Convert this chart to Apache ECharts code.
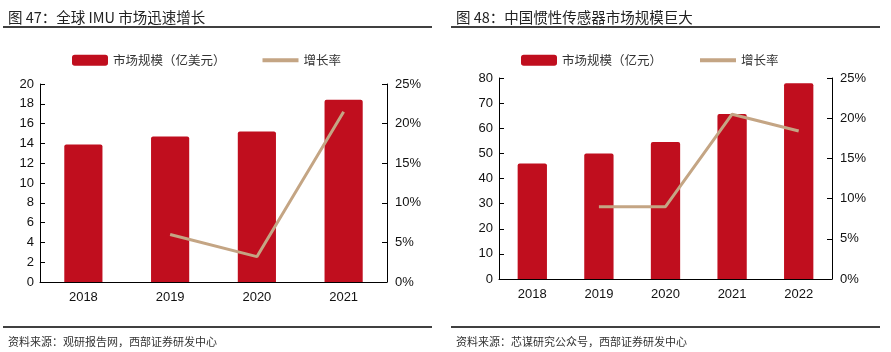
<!DOCTYPE html>
<html>
<head>
<meta charset="utf-8">
<script src="https://cdn.jsdelivr.net/npm/echarts@6/dist/echarts.min.js"></script>
<style>
  html, body { margin: 0; padding: 0; background: #fff; }
  #main { width: 891px; height: 352px; }
</style>
</head>
<body>
<div id="main"></div>
<script>
// 图47 全球IMU市场
var years1 = ['2018', '2019', '2020', '2021'];
var scale1 = [13.9, 14.7, 15.2, 18.4];
var growth1 = [null, 6.0, 3.2, 21.5];
// 图48 中国惯性传感器市场
var years2 = ['2018', '2019', '2020', '2021', '2022'];
var scale2 = [46.0, 50.0, 54.5, 65.7, 77.9];
var growth2 = [null, 9.0, 9.0, 20.5, 18.4];

var barColor = '#C00E1E';
var lineColor = '#C4A584';
var cjk = '"Noto Sans CJK SC", sans-serif';
var num = '"Liberation Sans", Arial, sans-serif';
var lineIcon = 'path://M0,0 L36,0 L36,4 L0,4 Z';

var chart = echarts.init(document.getElementById('main'));

function catAxis(idx, data) {
  return {
    type: 'category', gridIndex: idx, data: data,
    axisLine: { lineStyle: { color: '#000', width: 1 } },
    axisTick: { inside: true, length: 5, lineStyle: { color: '#000' } },
    axisLabel: { margin: 9, color: '#111', fontSize: 13, fontFamily: num }
  };
}
function valAxis(idx, max, step, pos, fmt) {
  return {
    type: 'value', gridIndex: idx, position: pos, min: 0, max: max, interval: step,
    splitLine: { show: false },
    axisLine: { show: true, lineStyle: { color: '#000', width: 1 } },
    axisTick: { show: true, inside: true, length: 5, lineStyle: { color: '#000' } },
    axisLabel: { margin: pos == 'left' ? 6 : 8, color: '#111', fontSize: 13, fontFamily: num, formatter: fmt }
  };
}
function barSeries(name, xi, yi, data) {
  return {
    name: name, type: 'bar', xAxisIndex: xi, yAxisIndex: yi, data: data,
    barWidth: '44%', itemStyle: { color: barColor, borderRadius: [2, 2, 0, 0] }
  };
}
function lineSeries(xi, yi, data) {
  return {
    name: '增长率', type: 'line', xAxisIndex: xi, yAxisIndex: yi, data: data,
    symbol: 'none', lineStyle: { color: lineColor, width: 3 }, itemStyle: { color: lineColor }
  };
}

var titleStyle = { fontFamily: cjk, fontSize: 14.5, fontWeight: 'normal', color: '#222' };
var srcStyle = { fontFamily: cjk, fontSize: 11, fontWeight: 'normal', color: '#333' };
var legendText = { fontFamily: cjk, fontSize: 12.5, color: '#333' };

var option = {
  animation: false,
  title: [
    { text: '图 47：全球 IMU 市场迅速增长', left: 3, top: 5, textStyle: titleStyle },
    { text: '图 48：中国惯性传感器市场规模巨大', left: 451, top: 5, textStyle: titleStyle },
    { text: '资料来源：观研报告网，西部证券研发中心', left: 3, top: 331, textStyle: srcStyle },
    { text: '资料来源：芯谋研究公众号，西部证券研发中心', left: 451, top: 331, textStyle: srcStyle }
  ],
  graphic: [
    { type: 'line', shape: { x1: 3, y1: 27, x2: 432, y2: 27 }, style: { stroke: '#000', lineWidth: 1.5 } },
    { type: 'line', shape: { x1: 451, y1: 27, x2: 880, y2: 27 }, style: { stroke: '#000', lineWidth: 1.5 } },
    { type: 'line', shape: { x1: 3, y1: 327, x2: 432, y2: 327 }, style: { stroke: '#000', lineWidth: 1.5 } },
    { type: 'line', shape: { x1: 451, y1: 327, x2: 880, y2: 327 }, style: { stroke: '#000', lineWidth: 1.5 } }
  ],
  legend: [
    {
      left: 72, top: 54, padding: 0, itemWidth: 36, itemHeight: 11, itemGap: 37,
      data: [{ name: '市场规模（亿美元）', icon: 'roundRect' }, { name: '增长率', icon: lineIcon }],
      textStyle: legendText
    },
    {
      left: 521, top: 54, padding: 0, itemWidth: 36, itemHeight: 11, itemGap: 38,
      data: [{ name: '市场规模（亿元）', icon: 'roundRect' }, { name: '增长率', icon: lineIcon }],
      textStyle: legendText
    }
  ],
  grid: [
    { left: 40, right: 504, top: 84, bottom: 70 },
    { left: 499, right: 59, top: 78, bottom: 73 }
  ],
  xAxis: [catAxis(0, years1), catAxis(1, years2)],
  yAxis: [
    valAxis(0, 20, 2, 'left', '{value}'),
    valAxis(0, 25, 5, 'right', '{value}%'),
    valAxis(1, 80, 10, 'left', '{value}'),
    valAxis(1, 25, 5, 'right', '{value}%')
  ],
  series: [
    barSeries('市场规模（亿美元）', 0, 0, scale1),
    lineSeries(0, 1, growth1),
    barSeries('市场规模（亿元）', 1, 2, scale2),
    lineSeries(1, 3, growth2)
  ]
};
chart.setOption(option);
</script>
</body>
</html>
